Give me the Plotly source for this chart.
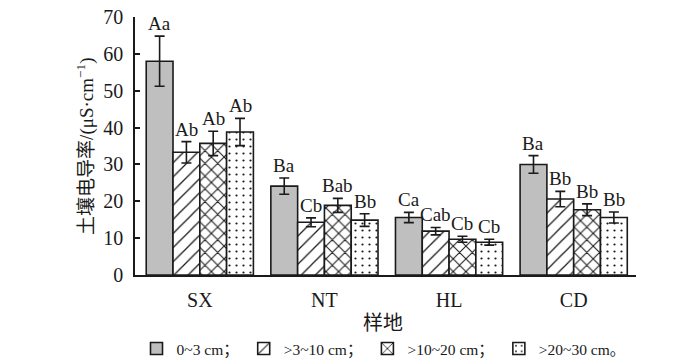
import plotly.graph_objects as go

sites = ["SX", "NT", "HL", "CD"]
depths = ["0~3 cm；", ">3~10 cm；", ">10~20 cm；", ">20~30 cm。"]
values = [
    [58.0, 24.1, 15.6, 30.0],
    [33.3, 14.3, 11.9, 20.6],
    [35.7, 18.9, 9.7, 17.7],
    [38.8, 14.9, 8.9, 15.6],
]
errors = [
    [6.8, 2.2, 1.4, 2.4],
    [2.9, 1.2, 1.0, 2.1],
    [3.3, 1.9, 0.8, 1.6],
    [3.7, 1.7, 0.8, 1.5],
]
letters = [
    ["Aa", "Ba", "Ca", "Ba"],
    ["Ab", "Cb", "Cab", "Bb"],
    ["Ab", "Bab", "Cb", "Bb"],
    ["Ab", "Bb", "Cb", "Bb"],
]

FONT = "Liberation Serif, Times New Roman, Noto Sans CJK SC"
INK = "#1a1a1a"
fills = ["#bfbfbf", "white", "white", "white"]
shapes_ = ["", "/", "x", "."]
psize = [8, 10, 9, 7]
psol = [0.2, 0.13, 0.22, 0.08]

BARGAP = 0.14
n = len(depths)
bw = (1 - BARGAP) / n

fig = go.Figure()
for k in range(n):
    pattern = dict(shape=shapes_[k], fgcolor=INK, bgcolor=fills[k],
                   size=psize[k], solidity=psol[k], fillmode="replace")
    fig.add_trace(go.Bar(
        name=depths[k], x=sites, y=values[k],
        marker=dict(color=fills[k], line=dict(color=INK, width=1.6), pattern=pattern),
        error_y=dict(type="data", array=errors[k], color=INK, thickness=1.6, width=5),
    ))
    for i in range(len(sites)):
        xpos = i + (k - (n - 1) / 2) * bw
        fig.add_annotation(x=xpos, y=values[k][i] + errors[k][i], text=letters[k][i],
                           showarrow=False, yanchor="bottom", yshift=0,
                           font=dict(family=FONT, size=19, color=INK))

fig.add_annotation(xref="paper", yref="paper", x=-0.1, y=0.5,
                   text="土壤电导率/(μS·cm<sup>−1</sup>)", textangle=-90,
                   showarrow=False, xanchor="center", yanchor="middle",
                   font=dict(family=FONT, size=19, color=INK))
fig.add_annotation(xref="paper", yref="paper", x=0.495, y=-0.185,
                   text="样地", showarrow=False, xanchor="center", yanchor="middle",
                   font=dict(family=FONT, size=20, color=INK))

fig.update_layout(
    width=700, height=362,
    margin=dict(l=135, r=64, t=17, b=87),
    paper_bgcolor="white", plot_bgcolor="white",
    barmode="group", bargap=BARGAP, bargroupgap=0,
    font=dict(family=FONT, size=20, color=INK),
    showlegend=True,
    legend=dict(orientation="h", xref="container", yref="container",
                x=0.195, xanchor="left", y=0.036, yanchor="middle",
                font=dict(family=FONT, size=15.5, color=INK), traceorder="normal",
                itemwidth=30, tracegroupgap=0),
    xaxis=dict(range=[-0.52, 3.5], showline=True, linecolor=INK, linewidth=1.6,
               ticks="", showgrid=False, zeroline=False, ticklabelstandoff=6,
               automargin=False,
               tickfont=dict(family=FONT, size=20, color=INK)),
    yaxis=dict(range=[0, 70], dtick=10, showline=True, linecolor=INK, linewidth=1.6,
               ticks="inside", ticklen=5, tickwidth=1.6, tickcolor=INK,
               showgrid=False, zeroline=False, ticklabelstandoff=6,
               ticklabeloverflow="allow", automargin=False,
               tickfont=dict(family=FONT, size=20, color=INK)),
)

fig.write_html("out.html", config={"displayModeBar": False},
               post_script="document.body.style.margin='0';")
